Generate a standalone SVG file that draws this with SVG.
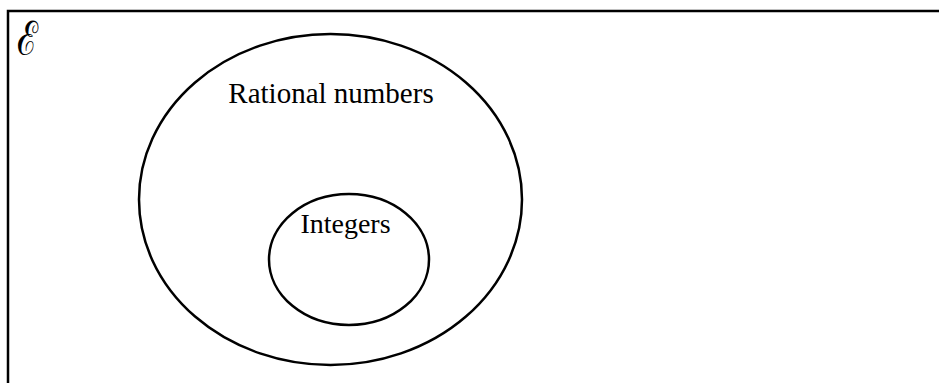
<svg xmlns="http://www.w3.org/2000/svg" width="939" height="383" viewBox="0 0 939 383">
<style>
.shape{fill:none;stroke:#000;stroke-width:2.5}
.lbl{font-family:"Liberation Serif","Times New Roman",serif;fill:#000;text-anchor:middle}
.sym{font-family:"DejaVu Serif","Noto Sans",serif;fill:#000}
</style>
<rect width="939" height="383" fill="#fff"/>
<g id="universe">
<rect class="shape" x="8" y="11" width="940" height="390" stroke-width="3"/>
<text class="sym" transform="translate(17,55) scale(1,1.35)" font-size="35">ℰ</text>
</g>
<g id="rational">
<ellipse class="shape" cx="330.5" cy="199.5" rx="191.5" ry="165.5"/>
<text class="lbl" x="331" y="103" font-size="29">Rational numbers</text>
</g>
<g id="integers">
<ellipse class="shape" cx="349" cy="259.5" rx="80" ry="65.5"/>
<text class="lbl" x="345.5" y="233" font-size="28">Integers</text>
</g>
<g id="connectors"/>
</svg>
